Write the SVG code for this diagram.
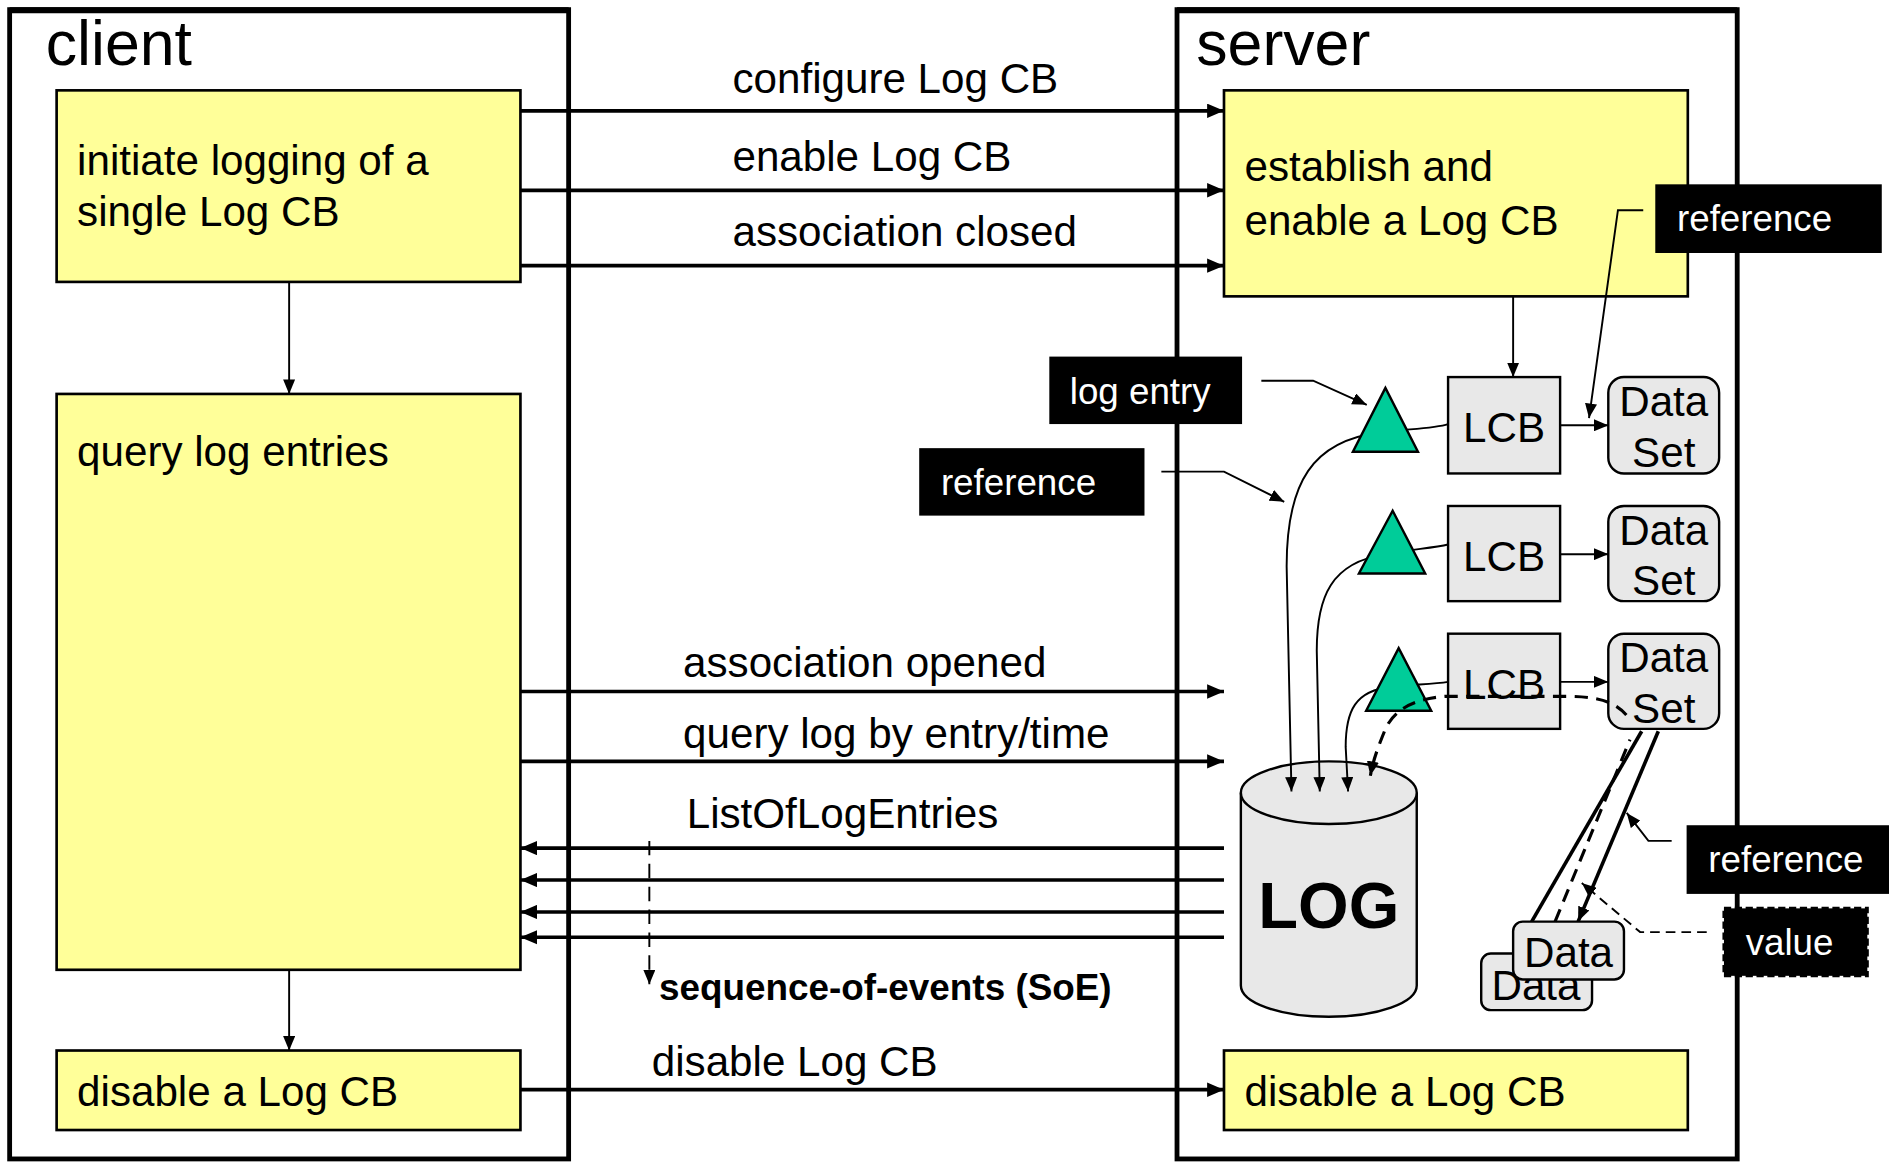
<svg xmlns="http://www.w3.org/2000/svg" width="1889" height="1162" viewBox="0 0 1889 1162">
<defs>
<style>
text{font-family:"Liberation Sans",Arial,sans-serif;fill:#000}
.t{font-size:35px}
.title{font-size:52px}
.lbl{font-size:30.5px;fill:#fff}
.frame{fill:none;stroke:#000;stroke-width:4}
.yb{fill:#FFFF99;stroke:#000;stroke-width:2.2}
.gb{fill:#E8E8E8;stroke:#000;stroke-width:2}
.blk{fill:#000}
.msg{fill:none;stroke:#000;stroke-width:3}
.thin{fill:none;stroke:#000;stroke-width:1.6}
.tri{fill:#00CC99;stroke:#000;stroke-width:2}
</style>
<marker id="ah" markerUnits="userSpaceOnUse" markerWidth="14" markerHeight="12" refX="14" refY="6" orient="auto"><path d="M0,0 L14,6 L0,12 Z" fill="#000"/></marker>
<marker id="as" markerUnits="userSpaceOnUse" markerWidth="12" markerHeight="10" refX="12" refY="5" orient="auto"><path d="M0,0 L12,5 L0,10 Z" fill="#000"/></marker>
</defs>
<g transform="scale(1.20472 1.20472)">
<g id="client-frame"><rect class="frame" x="8" y="8" width="464" height="954"/><line x1="8" y1="8.5" x2="472" y2="8.5" stroke="#000" stroke-width="5"/><text class="title" x="38" y="54">client</text></g>
<g id="server-frame"><rect class="frame" x="977" y="8" width="465" height="954"/><line x1="977" y1="8.5" x2="1442" y2="8.5" stroke="#000" stroke-width="5"/><text class="title" x="993" y="54">server</text></g>

<g id="c-initiate"><rect class="yb" x="47" y="75" width="385" height="159"/><text class="t" x="64" y="145">initiate logging of a</text><text class="t" x="64" y="188">single Log CB</text></g>
<g id="c-query"><rect class="yb" x="47" y="327" width="385" height="478"/><text class="t" x="64" y="387">query log entries</text></g>
<g id="c-disable"><rect class="yb" x="47" y="872" width="385" height="66"/><text class="t" x="64" y="918">disable a Log CB</text></g>
<g id="s-establish"><rect class="yb" x="1016" y="75" width="385" height="171"/><text class="t" x="1033" y="150">establish and</text><text class="t" x="1033" y="195">enable a Log CB</text></g>
<g id="s-disable"><rect class="yb" x="1016" y="872" width="385" height="66"/><text class="t" x="1033" y="918">disable a Log CB</text></g>

<g id="log"><path class="gb" stroke-width="2.5" d="M1030,658 L1030,818 A73,26 0 0 0 1176,818 L1176,658"/><ellipse class="gb" stroke-width="2.5" cx="1103" cy="658" rx="73" ry="26"/><text x="1103" y="770" text-anchor="middle" font-size="54" font-weight="bold">LOG</text></g>

<g id="connectors">
<line class="msg" x1="432" y1="92" x2="1016" y2="92" marker-end="url(#ah)"/>
<line class="msg" x1="432" y1="158" x2="1016" y2="158" marker-end="url(#ah)"/>
<line class="msg" x1="432" y1="220.5" x2="1016" y2="220.5" marker-end="url(#ah)"/>
<line class="msg" x1="432" y1="574" x2="1016" y2="574" marker-end="url(#ah)"/>
<line class="msg" x1="432" y1="632" x2="1016" y2="632" marker-end="url(#ah)"/>
<line class="msg" x1="1016" y1="704" x2="432" y2="704" marker-end="url(#ah)"/>
<line class="msg" x1="1016" y1="730.5" x2="432" y2="730.5" marker-end="url(#ah)"/>
<line class="msg" x1="1016" y1="757" x2="432" y2="757" marker-end="url(#ah)"/>
<line class="msg" x1="1016" y1="778" x2="432" y2="778" marker-end="url(#ah)"/>
<line class="msg" x1="432" y1="904.5" x2="1016" y2="904.5" marker-end="url(#ah)"/>
<line class="thin" x1="539" y1="698" x2="539" y2="817" stroke-dasharray="12,7" marker-end="url(#as)"/>
<line class="thin" x1="240" y1="234" x2="240" y2="327" marker-end="url(#as)"/>
<line class="thin" x1="240" y1="805" x2="240" y2="872" marker-end="url(#as)"/>
<line class="thin" x1="1256" y1="246" x2="1256" y2="313" marker-end="url(#as)"/>
<line class="thin" x1="1295" y1="353" x2="1335" y2="353" marker-end="url(#as)"/>
<line class="thin" x1="1295" y1="460" x2="1335" y2="460" marker-end="url(#as)"/>
<line class="thin" x1="1295" y1="566" x2="1335" y2="566" marker-end="url(#as)"/>
<path class="thin" stroke-width="2" d="M1202,352 C1190,356 1165,356 1145,359 C1090,366 1068,400 1068,470 L1072,657" marker-end="url(#as)"/>
<path class="thin" stroke-width="2" d="M1202,452 C1190,455 1170,456 1150,460 C1105,467 1093,495 1093,540 L1095.5,657" marker-end="url(#as)"/>
<path class="thin" stroke-width="2" d="M1202,566 C1190,568 1175,568 1155,570 C1125,573 1117,590 1117,620 L1119,657" marker-end="url(#as)"/>
<polyline class="thin" points="1047,316 1090,316 1134.5,336" marker-end="url(#as)"/>
<polyline class="thin" points="964,391.5 1016,391.5 1066,416.5" marker-end="url(#as)"/>
<polyline class="thin" points="1364,174.5 1343,174.5 1319,347" marker-end="url(#as)"/>
<line class="msg" x1="1362.7" y1="607" x2="1271.4" y2="765"/>
<line class="msg" x1="1376.5" y1="607" x2="1310" y2="764.8" marker-end="url(#as)"/>
<polyline class="thin" points="1387.6,698 1368.3,698 1350.3,674.8" marker-end="url(#as)"/>
<polyline class="thin" points="1416.7,773.7 1361.4,773.7 1313,733" stroke-dasharray="8,5" marker-end="url(#as)"/>
</g>

<g id="trig1"><polygon class="tri" points="1150,322 1123,375 1177,375"/></g>
<g id="trig2"><polygon class="tri" points="1156,424 1128,476 1183,476"/></g>
<g id="trig3"><polygon class="tri" points="1161,538 1134,590 1188,590"/></g>

<g id="lcb1"><rect class="gb" x="1202" y="313" width="93" height="80"/><text class="t" x="1248.5" y="367" text-anchor="middle">LCB</text></g>
<g id="lcb2"><rect class="gb" x="1202" y="420" width="93" height="79"/><text class="t" x="1248.5" y="474" text-anchor="middle">LCB</text></g>
<g id="lcb3"><rect class="gb" x="1202" y="526" width="93" height="79"/><text class="t" x="1248.5" y="580" text-anchor="middle">LCB</text></g>
<g id="ds1"><rect class="gb" x="1335" y="313" width="92" height="80" rx="13"/><text class="t" x="1381" y="345" text-anchor="middle">Data</text><text class="t" x="1381" y="388" text-anchor="middle">Set</text></g>
<g id="ds2"><rect class="gb" x="1335" y="420" width="92" height="79" rx="13"/><text class="t" x="1381" y="452" text-anchor="middle">Data</text><text class="t" x="1381" y="494" text-anchor="middle">Set</text></g>
<g id="ds3"><rect class="gb" x="1335" y="526" width="92" height="79" rx="13"/><text class="t" x="1381" y="558" text-anchor="middle">Data</text><text class="t" x="1381" y="600" text-anchor="middle">Set</text></g>

<g id="data-back"><rect class="gb" x="1229.5" y="791.5" width="92" height="47" rx="8"/><text class="t" x="1275" y="830" text-anchor="middle">Data</text></g>
<g id="data-front"><rect class="gb" x="1256" y="765" width="92" height="48" rx="8"/><text class="t" x="1302" y="803" text-anchor="middle">Data</text></g>

<g id="value-flow"><path d="M1290.8,765 L1353,614 M1350,593.5 C1340,582 1325,578 1300,578 L1200,578 C1172,580 1157,590 1150,605 C1144,620 1140,630 1137.5,644" fill="none" stroke="#000" stroke-width="2.6" stroke-dasharray="11,7" marker-end="url(#as)"/></g>

<g id="lbl-ref-top"><rect class="blk" x="1374" y="153" width="188" height="57"/><text class="lbl" x="1392" y="192">reference</text></g>
<g id="lbl-logentry"><rect class="blk" x="871" y="296" width="160" height="56"/><text class="lbl" x="888" y="335">log entry</text></g>
<g id="lbl-ref-mid"><rect class="blk" x="763" y="372" width="187" height="56"/><text class="lbl" x="781" y="411">reference</text></g>
<g id="lbl-ref-bot"><rect class="blk" x="1400" y="685" width="168" height="57"/><text class="lbl" x="1418" y="724">reference</text></g>
<g id="lbl-value"><rect x="1431" y="754" width="119" height="56" fill="#000" stroke="#000" stroke-width="2.5" stroke-dasharray="6,3"/><text class="lbl" x="1449" y="793">value</text></g>

<g id="msg-labels">
<text class="t" x="608" y="77">configure Log CB</text>
<text class="t" x="608" y="142">enable Log CB</text>
<text class="t" x="608" y="204">association closed</text>
<text class="t" x="567" y="562">association opened</text>
<text class="t" x="567" y="621">query log by entry/time</text>
<text class="t" x="570" y="687">ListOfLogEntries</text>
<text x="547" y="830" font-size="30.6" font-weight="bold">sequence-of-events (SoE)</text>
<text class="t" x="541" y="893">disable Log CB</text>
</g>
</g>
</svg>
